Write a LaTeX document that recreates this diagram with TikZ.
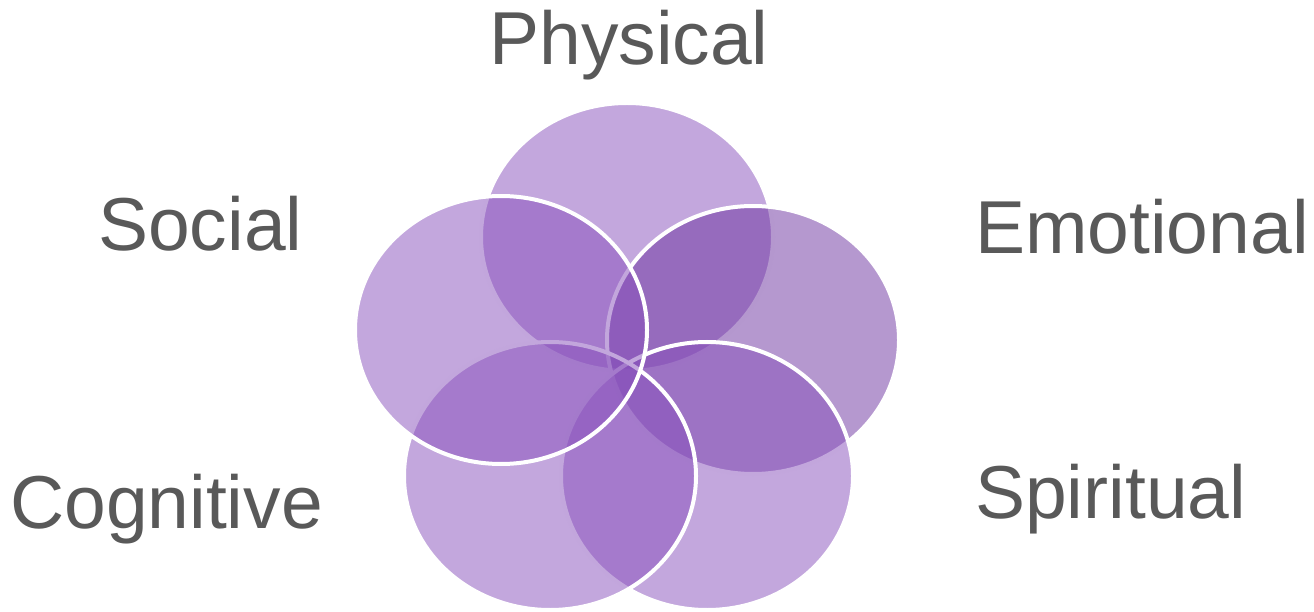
\documentclass[tikz,border=0pt]{standalone}
\usepackage{fontspec}
\setmainfont{Liberation Sans}
\usepackage{tikz}
\usetikzlibrary{shapes.geometric}
\usepackage{xcolor}
\definecolor{petal}{HTML}{874FBB}
\definecolor{petaldark}{HTML}{6B319F}
\definecolor{labelgray}{HTML}{595959}

\begin{document}
\begin{tikzpicture}[
    x=1pt, y=1pt,
    petalnode/.style={
        ellipse, draw=white, line width=4pt,
        fill=petal, fill opacity=0.5,
        minimum width=292pt, minimum height=268pt,
        inner sep=0pt
    },
    darkpetal/.style={
        petalnode, fill=petaldark
    },
    areatext/.style={
        inner sep=0pt, text=labelgray,
        font=\fontsize{75}{80}\selectfont
    },
]
\useasboundingbox (0,0) rectangle (1314,611);

% ── Petals (clockwise from the top) ──────
\node[petalnode] (phys) at (627,374) {};
\node[darkpetal] (emo) at (753,271) {};
\node[petalnode] (spir) at (707,135) {};
\node[petalnode] (cogn) at (550,135) {};
\node[petalnode] (soc) at (501,281) {};

% ── Labels ──────
\node[areatext, anchor=base] (physlbl) at (629,546) {Physical};
\node[areatext, anchor=base west] (emolbl) at (975,357) {Emotional};
\node[areatext, anchor=base west] (spirlbl) at (975,93) {Spiritual};
\node[areatext, anchor=base west] (cognlbl) at (10,83) {Cognitive};
\node[areatext, anchor=base west] (soclbl) at (98,360) {Social};

\end{tikzpicture}
\end{document}
